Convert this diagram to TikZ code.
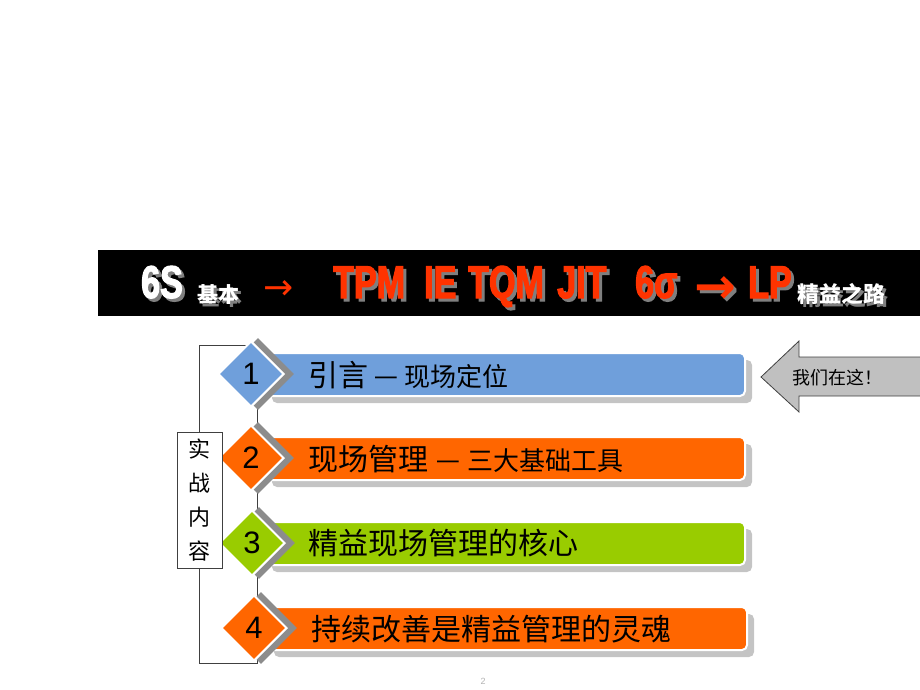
\documentclass[tikz,border=0pt]{standalone}
\usepackage{fontspec}
\setmainfont{Liberation Sans}
\newfontfamily\cjk{Noto Sans CJK SC}
\newfontfamily\impact[FakeStretch=0.74,FakeBold=2.5]{Liberation Sans}
\newfontfamily\arrowfont{DejaVu Sans}
\usetikzlibrary{shapes.geometric}
\definecolor{barblue}{HTML}{6F9FDB}
\definecolor{barorange}{HTML}{FF6600}
\definecolor{bargreen}{HTML}{99CC00}
\definecolor{bannerred}{HTML}{FF3300}
\definecolor{shadowlight}{HTML}{C4C4C4}
\definecolor{shadowdark}{HTML}{8C8C8C}
\definecolor{arrowgray}{HTML}{C0C0C0}
\definecolor{bshadow}{HTML}{7F7F7F}
\definecolor{lineclr}{HTML}{404040}
\newcommand{\sword}[4]{%
  \node[btext,text=bshadow,xshift=3pt,yshift=-3pt] (#1s) at (#2) {#4};
  \node[btext,text=#3] (#1) at (#2) {#4};}
\tikzset{
  btext/.style={anchor=base west, inner sep=0pt},
  bar/.style={rectangle, rounded corners=5pt, draw=white, line width=2pt,
    minimum height=43pt, minimum width=480pt, inner sep=0pt},
  barshadow/.style={rectangle, rounded corners=5pt, fill=shadowlight,
    minimum height=43pt, minimum width=480pt, inner sep=0pt},
  dia/.style={diamond, draw=white, line width=2pt, minimum width=66pt,
    minimum height=66pt, inner sep=0pt, font=\fontsize{31}{31}\selectfont},
  diashadow/.style={diamond, fill=shadowdark, minimum width=72pt,
    minimum height=72pt, inner sep=0pt},
  rowtext/.style={anchor=west, inner sep=0pt, font=\cjk\fontsize{30}{30}\selectfont},
}
\newcommand{\smallpart}[1]{{\fontsize{26}{26}\selectfont #1}}
\newcommand{\longdash}{\raisebox{2pt}{\fontspec{Liberation Sans}\scalebox{1.5}[1]{–}}}
\begin{document}
\begin{tikzpicture}[x=1pt,y=-1pt]
\useasboundingbox (0,0) rectangle (920,690);
% banner
\fill[black] (98,250) rectangle (920,316);
\sword{t6s}{141,298}{white}{\impact\bfseries\fontsize{46}{46}\selectfont 6S}
\sword{tjb}{197,302}{white}{\cjk\bfseries\fontsize{21}{21}\selectfont 基本}
\node[btext,text=bannerred] (tar1) at (263,299) {\arrowfont\fontsize{36}{36}\selectfont →};
\sword{ttpm}{333,298}{bannerred}{\impact\bfseries\fontsize{46}{46}\selectfont TPM}
\sword{tie}{424,298}{bannerred}{\impact\bfseries\fontsize{46}{46}\selectfont IE}
\sword{ttqm}{468,298}{bannerred}{\impact\bfseries\fontsize{46}{46}\selectfont TQM}
\sword{tjit}{557,298}{bannerred}{\impact\bfseries\fontsize{46}{46}\selectfont JIT}
\sword{tsig}{635,298}{bannerred}{\impact\bfseries\fontsize{46}{46}\selectfont 6σ}
\sword{tar2}{694,303}{bannerred}{\arrowfont\bfseries\fontsize{50}{50}\selectfont →}
\sword{tlp}{748,298}{bannerred}{\impact\bfseries\fontsize{46}{46}\selectfont LP}
\sword{tjy}{797,302}{white}{\cjk\bfseries\fontsize{22}{22}\selectfont 精益之路}
% bracket
\draw[lineclr, line width=1pt] (199,345) rectangle (257,663);
% bar shadows
\node[barshadow] (s1) at (512,381.5) {};
\node[barshadow] (s2) at (512,465.5) {};
\node[barshadow] (s3) at (512,550.5) {};
\node[barshadow] (s4) at (514,635.5) {};
% bars
\node[bar, fill=barblue] (bar1) at (505,374.5) {};
\node[bar, fill=barorange] (bar2) at (505,458.5) {};
\node[bar, fill=bargreen] (bar3) at (505,543.5) {};
\node[bar, fill=barorange] (bar4) at (507,628.5) {};
% diamond shadows
\node[diashadow] (ds1) at (258,374) {};
\node[diashadow] (ds2) at (258,458) {};
\node[diashadow] (ds3) at (259,543) {};
\node[diashadow] (ds4) at (261,628) {};
% diamonds
\node[dia, fill=barblue] (d1) at (251,374) {1};
\node[dia, fill=barorange] (d2) at (251,458) {2};
\node[dia, fill=bargreen] (d3) at (252,543) {3};
\node[dia, fill=barorange] (d4) at (254,628) {4};
% row texts
\node[rowtext] (r1) at (308,375) {引言\smallpart{\hspace{7pt}\longdash\hspace{8pt}现场定位}};
\node[rowtext] (r2) at (308,459) {现场管理\smallpart{\hspace{9pt}\longdash\hspace{9pt}三大基础工具}};
\node[rowtext] (r3) at (308,543) {精益现场管理的核心};
\node[rowtext] (r4) at (311,629) {持续改善是精益管理的灵魂};
% label box
\node[draw=lineclr, fill=white, line width=1pt, minimum width=45pt, minimum height=136pt,
  inner sep=0pt, align=center, font=\cjk\fontsize{22}{34}\selectfont] (box) at (199.5,500)
  {实\\战\\内\\容};
% pointer arrow
\fill[arrowgray] (921,357) -- (799,357) -- (799,341) -- (761,377) -- (799,412) -- (799,396) -- (921,396) -- cycle;
\draw[lineclr, line width=0.8pt] (921,357) -- (799,357) -- (799,341) -- (761,377) -- (799,412) -- (799,396) -- (921,396);
\node[font=\cjk\fontsize{18}{18}\selectfont, anchor=west, inner sep=0pt] (here) at (792,378) {我们在这！};
% page number
\node[font=\fontsize{9}{9}\selectfont, text=gray!60] (pg) at (483,681) {2};
\end{tikzpicture}
\end{document}
